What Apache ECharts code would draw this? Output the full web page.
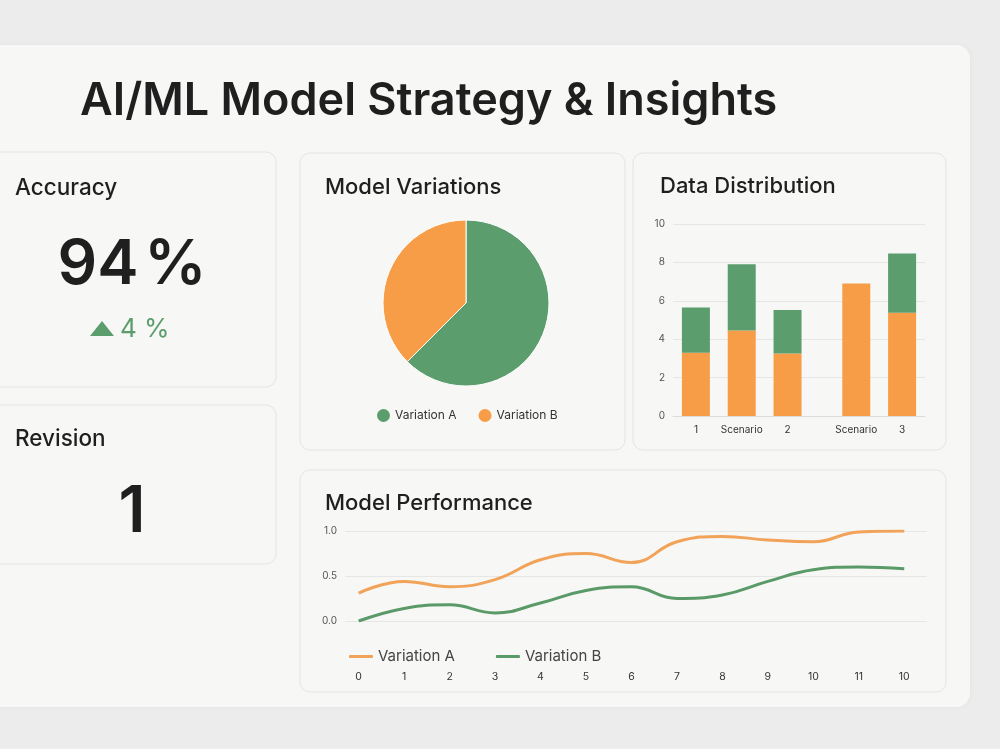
<!DOCTYPE html>
<html>
<head>
<meta charset="utf-8">
<script src="https://cdn.jsdelivr.net/npm/echarts@6/dist/echarts.min.js"></script>
<style>
  html, body { margin: 0; padding: 0; background: #ececec; }
  #main { width: 1000px; height: 749px; }
</style>
</head>
<body>
<div id="main"></div>
<script>
// ---- data ----
const accuracyValue = ["94", "%"];
const accuracyDelta = "4 %";
const revisionValue = "1";

const pieNames = ["Variation A", "Variation B"];
const pieValues = [62.5, 37.5];

const distCategories = ["", "1", "", "Scenario", "", "2", "", "", "Scenario", "", "3", ""];
const distOrange = [null, 3.3, null, 4.45, null, 3.25, null, null, 6.9, null, 5.38, null];
const distGreen = [null, 2.35, null, 3.45, null, 2.27, null, null, 0, null, 3.09, null];

const perfLabels = ["0", "1", "2", "3", "4", "5", "6", "7", "8", "9", "10", "11", "10"];
const perfA = [0.31, 0.44, 0.38, 0.46, 0.68, 0.75, 0.65, 0.88, 0.94, 0.9, 0.88, 0.99, 1.0];
const perfB = [0.0, 0.14, 0.18, 0.09, 0.2, 0.34, 0.38, 0.25, 0.29, 0.44, 0.57, 0.6, 0.58];

// ---- style ----
const green = "#5c9d6d";
const orange = "#f89d47";
const lineOrange = "#f2a35a";
const lineGreen = "#5a9a68";
const font = "Inter, 'Noto Sans', sans-serif";
const cardFill = "#f7f7f5";
const cardStroke = "#e5e5e2";

const chart = echarts.init(document.getElementById("main"));
window.addEventListener("resize", () => chart.resize());

function card(x, y, w, h) {
  return {
    type: "rect",
    z: -5,
    shape: { x, y, width: w, height: h, r: 10 },
    style: { fill: cardFill, stroke: cardStroke, lineWidth: 1 }
  };
}

function label(text, x, y, size, opts = {}) {
  return {
    type: "text",
    x, y,
    style: {
      text,
      fill: opts.color || "#1f1f1f",
      font: `${opts.weight || 500} ${size}px ${font}`,
      textAlign: opts.align || "left",
      textVerticalAlign: "middle"
    }
  };
}

const option = {
  backgroundColor: "#ececec",
  animation: false,
  textStyle: { fontFamily: font },
  graphic: [
    {
      type: "rect",
      z: -10,
      shape: { x: -20, y: 45, width: 990, height: 662, r: 14 },
      style: { fill: "#f7f7f6", shadowBlur: 6, shadowColor: "rgba(0,0,0,0.04)" }
    },
    card(-20, 152, 296, 235),
    card(-20, 405, 296, 159),
    card(300, 153, 325, 297),
    card(633, 153, 313, 297),
    card(300, 470, 646, 222),
    label("AI/ML Model Strategy & Insights", 80, 101, 45, { weight: 600 }),
    label("Accuracy", 15, 188, 22.5),
    {
      type: "text",
      x: 132,
      y: 265,
      style: {
        text: `{n|${accuracyValue[0]}}{s| }{n|${accuracyValue[1]}}`,
        textAlign: "center",
        textVerticalAlign: "middle",
        rich: {
          n: { fontSize: 62, fontWeight: 600, fontFamily: font, fill: "#1f1f1f" },
          s: { fontSize: 20, fontFamily: font }
        }
      }
    },
    {
      type: "polygon",
      shape: { points: [[90, 336], [114, 336], [102, 321]] },
      style: { fill: green }
    },
    label(accuracyDelta, 120, 329, 26, { color: green, weight: 400 }),
    label("Revision", 15, 439, 22.5),
    label(revisionValue, 132, 513, 64, { align: "center", weight: 600 }),
    label("Model Variations", 325, 187, 22),
    label("Data Distribution", 660, 186, 22),
    label("Model Performance", 325, 503, 22)
  ],
  legend: [
    {
      left: 372,
      top: 404,
      icon: "circle",
      itemWidth: 13,
      itemHeight: 13,
      itemGap: 22,
      textStyle: { fontSize: 12, color: "#333", fontFamily: font },
      data: [
        { name: pieNames[0], itemStyle: { color: green } },
        { name: pieNames[1], itemStyle: { color: orange } }
      ]
    },
    {
      left: 344,
      top: 644,
      icon: "roundRect",
      itemWidth: 24,
      itemHeight: 3,
      itemGap: 41,
      textStyle: { fontSize: 15, color: "#444", fontFamily: font },
      data: [
        { name: "Variation A", itemStyle: { color: lineOrange } },
        { name: "Variation B", itemStyle: { color: lineGreen } }
      ]
    }
  ],
  grid: [
    { left: 673, right: 75, top: 224, bottom: 333 },
    { left: 345, right: 73, top: 531, bottom: 128 }
  ],
  xAxis: [
    {
      gridIndex: 0,
      type: "category",
      data: distCategories,
      boundaryGap: false,
      axisLine: { lineStyle: { color: "#dcdcdc" } },
      axisTick: { show: false },
      axisLabel: { interval: 0, fontSize: 10, color: "#333", margin: 9 }
    },
    {
      gridIndex: 1,
      type: "value",
      min: -0.3,
      max: 12.5,
      axisLine: { show: false },
      axisTick: { show: false },
      splitLine: { show: false },
      axisLabel: {
        customValues: perfLabels.map((_, i) => i),
        formatter: (v) => perfLabels[Math.round(v)],
        fontSize: 10.5,
        color: "#333",
        margin: 50
      }
    }
  ],
  yAxis: [
    {
      gridIndex: 0,
      type: "value",
      min: 0,
      max: 10,
      interval: 2,
      axisLine: { show: false },
      axisTick: { show: false },
      splitLine: { lineStyle: { color: "#e6e6e4" } },
      axisLabel: { fontSize: 10, color: "#555", margin: 8 }
    },
    {
      gridIndex: 1,
      type: "value",
      min: 0,
      max: 1,
      interval: 0.5,
      axisLine: { show: false },
      axisTick: { show: false },
      splitLine: { lineStyle: { color: "#e6e6e4" } },
      axisLabel: {
        fontSize: 10,
        color: "#555",
        margin: 8,
        formatter: (v) => v.toFixed(1)
      }
    }
  ],
  series: [
    {
      type: "pie",
      center: [466, 303],
      radius: 83,
      startAngle: 90,
      label: { show: false },
      labelLine: { show: false },
      itemStyle: { borderColor: "#ffffff", borderWidth: 1 },
      data: pieNames.map((name, i) => ({
        name,
        value: pieValues[i],
        itemStyle: { color: i === 0 ? green : orange }
      }))
    },
    {
      name: "Orange",
      type: "bar",
      stack: "dist",
      xAxisIndex: 0,
      yAxisIndex: 0,
      barWidth: 28,
      itemStyle: { color: orange },
      data: distOrange
    },
    {
      name: "Green",
      type: "bar",
      stack: "dist",
      xAxisIndex: 0,
      yAxisIndex: 0,
      barWidth: 28,
      itemStyle: { color: green },
      data: distGreen
    },
    {
      name: "Variation A",
      type: "line",
      xAxisIndex: 1,
      yAxisIndex: 1,
      smooth: 0.45,
      showSymbol: false,
      lineStyle: { width: 3, color: lineOrange },
      itemStyle: { color: lineOrange },
      data: perfA.map((v, i) => [i, v])
    },
    {
      name: "Variation B",
      type: "line",
      xAxisIndex: 1,
      yAxisIndex: 1,
      smooth: 0.45,
      showSymbol: false,
      lineStyle: { width: 3, color: lineGreen },
      itemStyle: { color: lineGreen },
      data: perfB.map((v, i) => [i, v])
    }
  ]
};

chart.setOption(option);
</script>
</body>
</html>
